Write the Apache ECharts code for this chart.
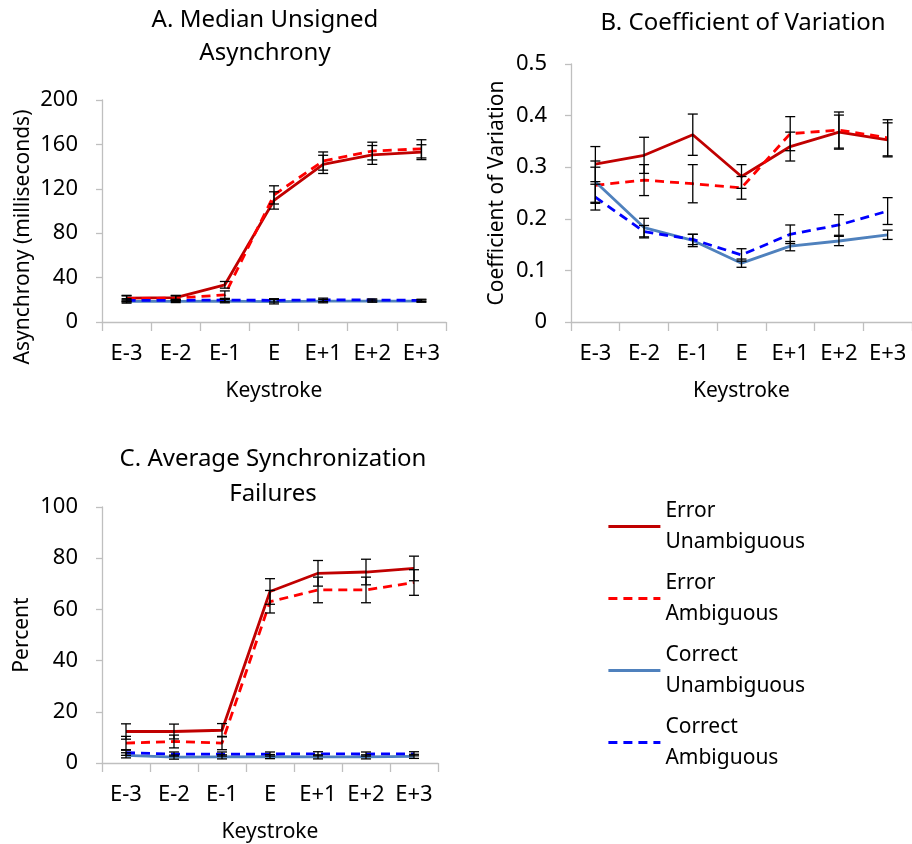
<!DOCTYPE html>
<html>
<head>
<meta charset="utf-8">
<title>Keystroke synchronization</title>
<script src="https://cdn.jsdelivr.net/npm/echarts@6/dist/echarts.min.js"></script>
<style>
  html, body { margin: 0; padding: 0; background: #fff; }
  #chart { width: 912px; height: 844px; }
</style>
</head>
<body>
<div id="chart"></div>
<script>
const keystrokes = ["E-3", "E-2", "E-1", "E", "E+1", "E+2", "E+3"];
const seriesNames = ["Error\nUnambiguous", "Error\nAmbiguous", "Correct\nUnambiguous", "Correct\nAmbiguous"];

// A. median unsigned asynchrony (ms), value and error bar half-width
const asyncErrUnamb = [21.5, 22, 33.5, 109.5, 142, 150.5, 153];
const asyncErrUnambErr = [2.5, 2, 3, 7.8, 8.2, 8.5, 6.7];
const asyncErrAmb = [21, 21.5, 24.5, 114.5, 145, 154, 156];
const asyncErrAmbErr = [2.5, 2, 3.5, 8.2, 8.2, 8, 8.2];
const asyncCorUnamb = [18.5, 18.5, 18.8, 18.3, 18.8, 18.8, 18.8];
const asyncCorUnambErr = [1.5, 1, 1.5, 2, 1.5, 1, 1];
const asyncCorAmb = [19.5, 19.5, 19.8, 19.5, 20, 19.8, 19.5];
const asyncCorAmbErr = [1.5, 1, 1.5, 1.5, 1.5, 1, 1];

// B. coefficient of variation
const cvErrUnamb = [0.306, 0.323, 0.363, 0.282, 0.340, 0.368, 0.353];
const cvErrUnambErr = [0.034, 0.035, 0.04, 0.023, 0.028, 0.033, 0.033];
const cvErrAmb = [0.265, 0.275, 0.268, 0.260, 0.365, 0.372, 0.357];
const cvErrAmbErr = [0.035, 0.03, 0.037, 0.022, 0.033, 0.035, 0.035];
const cvCorUnamb = [0.272, 0.183, 0.158, 0.114, 0.147, 0.157, 0.169];
const cvCorUnambErr = [0.04, 0.018, 0.012, 0.008, 0.009, 0.009, 0.009];
const cvCorAmb = [0.242, 0.175, 0.160, 0.130, 0.170, 0.188, 0.215];
const cvCorAmbErr = [0.025, 0.012, 0.01, 0.012, 0.018, 0.02, 0.026];

// C. average synchronization failures (%)
const failErrUnamb = [12.3, 12.3, 12.8, 67, 74.1, 74.6, 76];
const failErrUnambErr = [3, 2.9, 2.6, 5, 5, 5, 4.8];
const failErrAmb = [7.8, 8.4, 7.8, 63, 67.6, 67.6, 70.5];
const failErrAmbErr = [2.6, 2.5, 2.6, 4.4, 5, 5, 5];
const failCorUnamb = [3.0, 2.3, 2.4, 2.5, 2.4, 2.4, 2.6];
const failCorUnambErr = [1, 0.8, 0.8, 0.8, 0.8, 0.8, 0.8];
const failCorAmb = [4.0, 3.5, 3.5, 3.5, 3.6, 3.5, 3.6];
const failCorAmbErr = [1, 0.8, 0.8, 0.8, 0.8, 0.8, 0.8];

const FONT = "Noto Sans";
const colors = ["#C00000", "#FF0000", "#4F81BD", "#0000FF"];
const dashed = [false, true, false, true];

const panels = [
  { values: [asyncErrUnamb, asyncErrAmb, asyncCorUnamb, asyncCorAmb],
    errs: [asyncErrUnambErr, asyncErrAmbErr, asyncCorUnambErr, asyncCorAmbErr] },
  { values: [cvErrUnamb, cvErrAmb, cvCorUnamb, cvCorAmb],
    errs: [cvErrUnambErr, cvErrAmbErr, cvCorUnambErr, cvCorAmbErr] },
  { values: [failErrUnamb, failErrAmb, failCorUnamb, failCorAmb],
    errs: [failErrUnambErr, failErrAmbErr, failCorUnambErr, failCorAmbErr] }
];

const axisGray = "#BFBFBF";
const textColor = "#000";

function xAxisFor(gridIndex) {
  return {
    type: "category",
    gridIndex,
    data: keystrokes,
    boundaryGap: true,
    name: "Keystroke",
    nameLocation: "middle",
    nameGap: 59,
    nameTextStyle: { fontFamily: FONT, fontSize: 21, color: textColor },
    axisLine: { lineStyle: { color: axisGray, width: 1.3 } },
    axisTick: { show: true, interval: 0, length: 9, lineStyle: { color: axisGray, width: 1.3 } },
    axisLabel: { interval: 0, margin: 21, fontFamily: FONT, fontSize: 22, color: textColor },
    splitLine: { show: false }
  };
}

function yAxisFor(gridIndex, max, interval, name, nameGap, padding) {
  return {
    type: "value",
    gridIndex,
    min: 0,
    max,
    interval,
    name,
    nameLocation: "middle",
    nameGap,
    nameTextStyle: { fontFamily: FONT, fontSize: 21, color: textColor, padding },
    axisLine: { show: true, lineStyle: { color: axisGray, width: 1.3 } },
    axisTick: { show: true, length: 6, lineStyle: { color: axisGray, width: 1.3 } },
    axisLabel: { margin: 24, fontFamily: FONT, fontSize: 22, color: textColor },
    splitLine: { show: false }
  };
}

const series = [];
panels.forEach((p, g) => {
  p.values.forEach((vals, i) => {
    series.push({
      name: seriesNames[i],
      type: "line",
      xAxisIndex: g,
      yAxisIndex: g,
      data: vals,
      symbol: "none",
      z: 3 + i,
      lineStyle: { color: colors[i], width: 2.8, type: dashed[i] ? [9, 6] : "solid" },
      itemStyle: { color: colors[i] }
    });
  });
  p.values.forEach((vals, i) => {
    const errs = p.errs[i];
    series.push({
      name: "err-" + g + "-" + i,
      type: "custom",
      xAxisIndex: g,
      yAxisIndex: g,
      z: 10,
      data: vals.map((v, k) => [k, v - errs[k], v + errs[k]]),
      renderItem: (params, api) => {
        const lo = api.coord([api.value(0), api.value(1)]);
        const hi = api.coord([api.value(0), api.value(2)]);
        const half = 5;
        const style = { stroke: "#000", lineWidth: 1.3 };
        return {
          type: "group",
          children: [
            { type: "line", shape: { x1: hi[0], y1: hi[1], x2: lo[0], y2: lo[1] }, style },
            { type: "line", shape: { x1: hi[0] - half, y1: hi[1], x2: hi[0] + half, y2: hi[1] }, style },
            { type: "line", shape: { x1: lo[0] - half, y1: lo[1], x2: lo[0] + half, y2: lo[1] }, style }
          ]
        };
      }
    });
  });
});

const titleStyle = { fontFamily: FONT, fontSize: 24, fontWeight: "normal", color: textColor, lineHeight: 33 };

const option = {
  backgroundColor: "#fff",
  animation: false,
  title: [
    { text: "A. Median Unsigned\nAsynchrony", left: 265, top: 4, textAlign: "center", padding: 0, textStyle: titleStyle },
    { text: "B. Coefficient of Variation", left: 743, top: 7, textAlign: "center", padding: 0, textStyle: titleStyle },
    { text: "C. Average Synchronization\nFailures", left: 273, top: 442, textAlign: "center", padding: 0,
      textStyle: Object.assign({}, titleStyle, { lineHeight: 35 }) }
  ],
  legend: {
    orient: "vertical",
    left: 607,
    top: 480,
    padding: 0,
    itemWidth: 52,
    itemHeight: 14,
    itemGap: -21,
    data: seriesNames,
    selectedMode: false,
    itemStyle: { opacity: 0 },
    lineStyle: { width: 2.8 },
    textStyle: { fontFamily: FONT, fontSize: 21, color: textColor, lineHeight: 31, padding: [31, 0, 0, 0] }
  },
  grid: [
    { left: 102, top: 100, width: 344, height: 222 },
    { left: 571, top: 64, width: 349, height: 258 },
    { left: 102, top: 507, width: 336, height: 257 }
  ],
  xAxis: [xAxisFor(0), xAxisFor(1), xAxisFor(2)],
  yAxis: [
    yAxisFor(0, 200, 40, "Asynchrony (milliseconds)", 68, [0, 52, 0, 0]),
    yAxisFor(1, 0.5, 0.1, "Coefficient of Variation", 63, 0),
    yAxisFor(2, 100, 20, "Percent", 69, 0)
  ],
  series
};

const chart = echarts.init(document.getElementById("chart"), null, { renderer: "canvas" });
chart.setOption(option);
</script>
</body>
</html>
